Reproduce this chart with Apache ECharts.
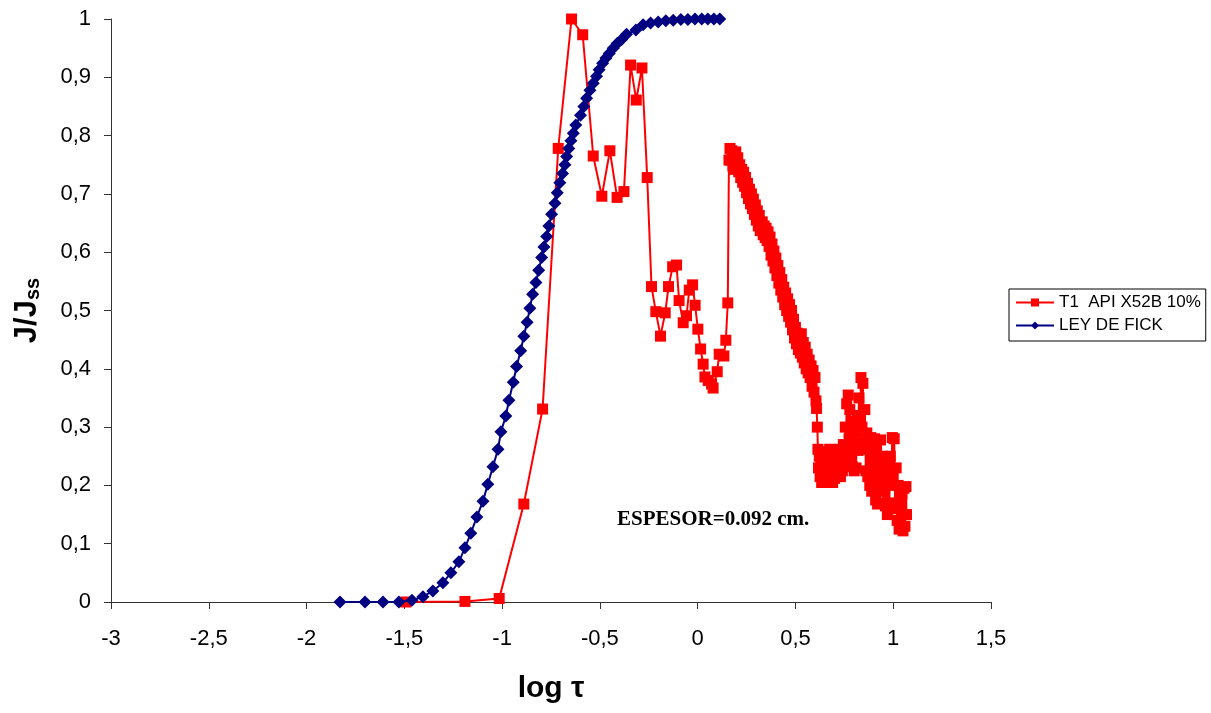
<!DOCTYPE html>
<html>
<head>
<meta charset="utf-8">
<script src="https://cdn.jsdelivr.net/npm/echarts@6/dist/echarts.min.js"></script>
<style>
  html, body { margin: 0; padding: 0; background: #fff; }
  #main { width: 1211px; height: 713px; }
</style>
</head>
<body>
<div id="main"></div>
<script>
// LEY DE FICK
var fickX = [-1.829, -1.701, -1.609, -1.528, -1.461, -1.405, -1.354, -1.303, -1.262, -1.221,
    -1.190, -1.160, -1.129, -1.098, -1.073, -1.047, -1.021, -1.006, -0.981, -0.965,
    -0.943, -0.926, -0.905, -0.889, -0.872, -0.858, -0.844, -0.827, -0.813, -0.798,
    -0.786, -0.772, -0.761, -0.747, -0.730, -0.718, -0.705, -0.691, -0.679, -0.670,
    -0.659, -0.648, -0.636, -0.623, -0.599, -0.582, -0.568, -0.551, -0.534, -0.517,
    -0.504, -0.486, -0.469, -0.452, -0.432, -0.412, -0.389, -0.364, -0.316, -0.279,
    -0.241, -0.202, -0.163, -0.125, -0.086, -0.050, -0.014, 0.021, 0.052, 0.083, 0.113];
var fickY = [0.000, 0.000, 0.000, 0.000, 0.003, 0.009, 0.019, 0.033, 0.050, 0.069,
    0.093, 0.118, 0.146, 0.173, 0.202, 0.232, 0.262, 0.292, 0.319, 0.346,
    0.377, 0.404, 0.431, 0.456, 0.480, 0.504, 0.528, 0.548, 0.569, 0.591,
    0.609, 0.627, 0.645, 0.665, 0.684, 0.702, 0.719, 0.735, 0.750, 0.764,
    0.778, 0.791, 0.804, 0.818, 0.835, 0.850, 0.864, 0.878, 0.890, 0.902,
    0.913, 0.924, 0.933, 0.941, 0.950, 0.958, 0.965, 0.974, 0.981, 0.990,
    0.993, 0.995, 0.997, 0.998, 0.999, 0.999, 1.000, 1.000, 1.000, 1.000, 1.000];

// T1 API X52B 10%
var t1X = [-1.492, -1.190, -1.015, -0.889, -0.793, -0.713, -0.645, -0.588, -0.534, -0.490,
    -0.449, -0.412, -0.377, -0.343, -0.314, -0.285, -0.258, -0.236, -0.214, -0.190,
    -0.166, -0.149, -0.128, -0.108, -0.095, -0.074, -0.057, -0.043, -0.026, -0.013,
    0.001, 0.015, 0.028, 0.037, 0.054, 0.071, 0.079, 0.100, 0.110, 0.134,
    0.144, 0.154, 0.160,
    0.165, 0.170, 0.175, 0.180, 0.185, 0.190, 0.195, 0.200, 0.205, 0.210,
    0.215, 0.220, 0.225, 0.230, 0.235, 0.240, 0.245, 0.250, 0.255, 0.260,
    0.265, 0.270, 0.275, 0.280, 0.285, 0.290, 0.295, 0.300, 0.305, 0.310,
    0.315, 0.320, 0.330, 0.335, 0.340, 0.345, 0.350, 0.355, 0.360, 0.365,
    0.370, 0.375, 0.380, 0.385, 0.390, 0.395, 0.400, 0.405, 0.410, 0.415,
    0.420, 0.425, 0.430, 0.435, 0.440, 0.445, 0.450, 0.455, 0.460, 0.465,
    0.470, 0.475, 0.480, 0.485, 0.490, 0.495, 0.500, 0.505, 0.510, 0.515,
    0.520, 0.525, 0.530, 0.535, 0.540, 0.545, 0.550, 0.555, 0.560, 0.565,
    0.570, 0.575, 0.580, 0.585, 0.590, 0.595, 0.600, 0.605, 0.608,
    0.612, 0.615, 0.618, 0.622, 0.626, 0.630, 0.634, 0.638, 0.642, 0.646,
    0.650, 0.655, 0.660, 0.665, 0.670, 0.675, 0.680, 0.685, 0.690, 0.695,
    0.700, 0.705, 0.710, 0.715, 0.720, 0.725, 0.730, 0.735, 0.740, 0.745,
    0.750, 0.755, 0.758, 0.762, 0.766, 0.770, 0.774, 0.778, 0.782, 0.786,
    0.790, 0.795, 0.800, 0.805, 0.810, 0.815, 0.820, 0.825, 0.830, 0.835,
    0.840, 0.845, 0.850, 0.855, 0.860, 0.865, 0.870, 0.875, 0.880, 0.885,
    0.890, 0.895, 0.900, 0.905, 0.910, 0.915, 0.920, 0.925, 0.930, 0.935,
    0.940, 0.945, 0.950, 0.955, 0.960, 0.965, 0.970, 0.975, 0.980, 0.985,
    0.990, 0.995, 1.000, 1.005, 1.010, 1.015, 1.020, 1.025, 1.030, 1.035,
    1.040, 1.045, 1.050, 1.055, 1.060, 1.065, 1.068];
var t1Y = [0.000, 0.001, 0.006, 0.168, 0.331, 0.778, 1.000, 0.973, 0.765, 0.696,
    0.774, 0.694, 0.704, 0.921, 0.861, 0.916, 0.728, 0.541, 0.498, 0.456,
    0.496, 0.541, 0.575, 0.578, 0.517, 0.479, 0.491, 0.535, 0.544, 0.509,
    0.468, 0.434, 0.408, 0.386, 0.380, 0.374, 0.367, 0.395, 0.425, 0.422,
    0.449, 0.513, 0.758,
    0.778, 0.758, 0.774, 0.748, 0.770, 0.742, 0.772, 0.750, 0.762, 0.738,
    0.750, 0.728, 0.742, 0.720, 0.737, 0.713, 0.728, 0.702, 0.718, 0.692,
    0.708, 0.683, 0.700, 0.675, 0.691, 0.665, 0.681, 0.655, 0.671, 0.645,
    0.663, 0.637, 0.652, 0.630, 0.645, 0.625, 0.641, 0.620, 0.635, 0.610,
    0.626, 0.595, 0.614, 0.585, 0.602, 0.573, 0.590, 0.560, 0.577, 0.547,
    0.565, 0.535, 0.553, 0.523, 0.540, 0.510, 0.530, 0.500, 0.520, 0.490,
    0.510, 0.480, 0.500, 0.467, 0.485, 0.453, 0.471, 0.443, 0.461, 0.433,
    0.455, 0.427, 0.460, 0.420, 0.445, 0.410, 0.437, 0.400, 0.425, 0.393,
    0.415, 0.385, 0.405, 0.370, 0.397, 0.360, 0.385, 0.345, 0.332,
    0.300, 0.262, 0.230, 0.250, 0.215, 0.240, 0.205, 0.245, 0.220, 0.258,
    0.210, 0.240, 0.205, 0.250, 0.215, 0.262, 0.222, 0.250, 0.205, 0.248,
    0.212, 0.255, 0.218, 0.260, 0.225, 0.262, 0.215, 0.255, 0.225, 0.270,
    0.235, 0.300, 0.245, 0.340, 0.265, 0.355, 0.280, 0.330, 0.255, 0.310,
    0.232, 0.290, 0.225, 0.300, 0.230, 0.320, 0.260, 0.350, 0.280, 0.385,
    0.300, 0.375, 0.262, 0.330, 0.225, 0.290, 0.215, 0.280, 0.200, 0.282,
    0.190, 0.272, 0.205, 0.280, 0.175, 0.260, 0.168, 0.245, 0.200, 0.278,
    0.190, 0.250, 0.170, 0.235, 0.165, 0.225, 0.150, 0.215, 0.170, 0.250,
    0.200, 0.282, 0.215, 0.280, 0.160, 0.230, 0.140, 0.200, 0.125, 0.195,
    0.130, 0.185, 0.122, 0.195, 0.130, 0.198, 0.150];

var xTicks = { min: -3, max: 1.5, step: 0.5 };
var yTicks = { min: 0, max: 1, step: 0.1 };

function pairs(xs, ys) {
    return xs.map(function (x, i) { return [x, ys[i]]; });
}
function comma(v) {
    return String(+v.toFixed(1)).replace('.', ',');
}

var chart = echarts.init(document.getElementById('main'));
var axisCol = '#333';
var option = {
    animation: false,
    backgroundColor: '#fff',
    textStyle: { fontFamily: 'Liberation Sans, Arial, sans-serif' },
    grid: { left: 111, right: 220, top: 19, bottom: 111 },
    legend: {
        orient: 'vertical',
        left: 1009,
        top: 289,
        padding: [5, 5, 7, 6],
        itemGap: 6,
        itemWidth: 38,
        itemHeight: 10,
        borderColor: '#000',
        borderWidth: 1,
        borderRadius: 0,
        textStyle: { fontSize: 17, color: '#000' },
        data: ['T1  API X52B 10%', 'LEY DE FICK']
    },
    xAxis: {
        type: 'value',
        min: xTicks.min,
        max: xTicks.max,
        interval: xTicks.step,
        name: 'log τ',
        nameLocation: 'middle',
        nameGap: 72,
        nameTextStyle: { fontSize: 30, fontWeight: 'bold', color: '#000' },
        axisLine: { show: true, onZero: false, lineStyle: { color: axisCol, width: 1 } },
        axisTick: { show: true, inside: false, length: 7, lineStyle: { color: axisCol } },
        axisLabel: { fontSize: 22, color: '#000', margin: 26, formatter: comma },
        splitLine: { show: false }
    },
    yAxis: {
        type: 'value',
        min: yTicks.min,
        max: yTicks.max,
        interval: yTicks.step,
        name: '{a|J/J}{b|ss}',
        nameLocation: 'middle',
        nameGap: 68,
        nameRotate: 90,
        nameTextStyle: {
            color: '#000',
            rich: {
                a: { fontSize: 31, fontWeight: 'bold', color: '#000' },
                b: { fontSize: 20, fontWeight: 'bold', color: '#000', verticalAlign: 'bottom', padding: [12, 0, 0, 0] }
            }
        },
        axisLine: { show: true, onZero: false, lineStyle: { color: axisCol, width: 1 } },
        axisTick: { show: true, inside: false, length: 7, lineStyle: { color: axisCol } },
        axisLabel: { fontSize: 22, color: '#000', margin: 20, formatter: comma },
        splitLine: { show: false }
    },
    graphic: [{
        type: 'text',
        left: 617,
        top: 509,
        style: {
            text: 'ESPESOR=0.092 cm.',
            font: 'bold 21px "Liberation Serif", "Times New Roman", serif',
            fill: '#000'
        }
    }],
    series: [
        {
            name: 'T1  API X52B 10%',
            type: 'line',
            data: pairs(t1X, t1Y),
            symbol: 'rect',
            symbolSize: 11,
            showAllSymbol: true,
            color: '#ff0000',
            lineStyle: { color: '#ff0000', width: 2 },
            itemStyle: { color: '#ff0000' },
            z: 2
        },
        {
            name: 'LEY DE FICK',
            type: 'line',
            data: pairs(fickX, fickY),
            symbol: 'diamond',
            symbolSize: [13, 13],
            showAllSymbol: true,
            color: '#000080',
            lineStyle: { color: '#000080', width: 2 },
            itemStyle: { color: '#000080' },
            z: 3
        }
    ]
};
chart.setOption(option);
</script>
</body>
</html>
